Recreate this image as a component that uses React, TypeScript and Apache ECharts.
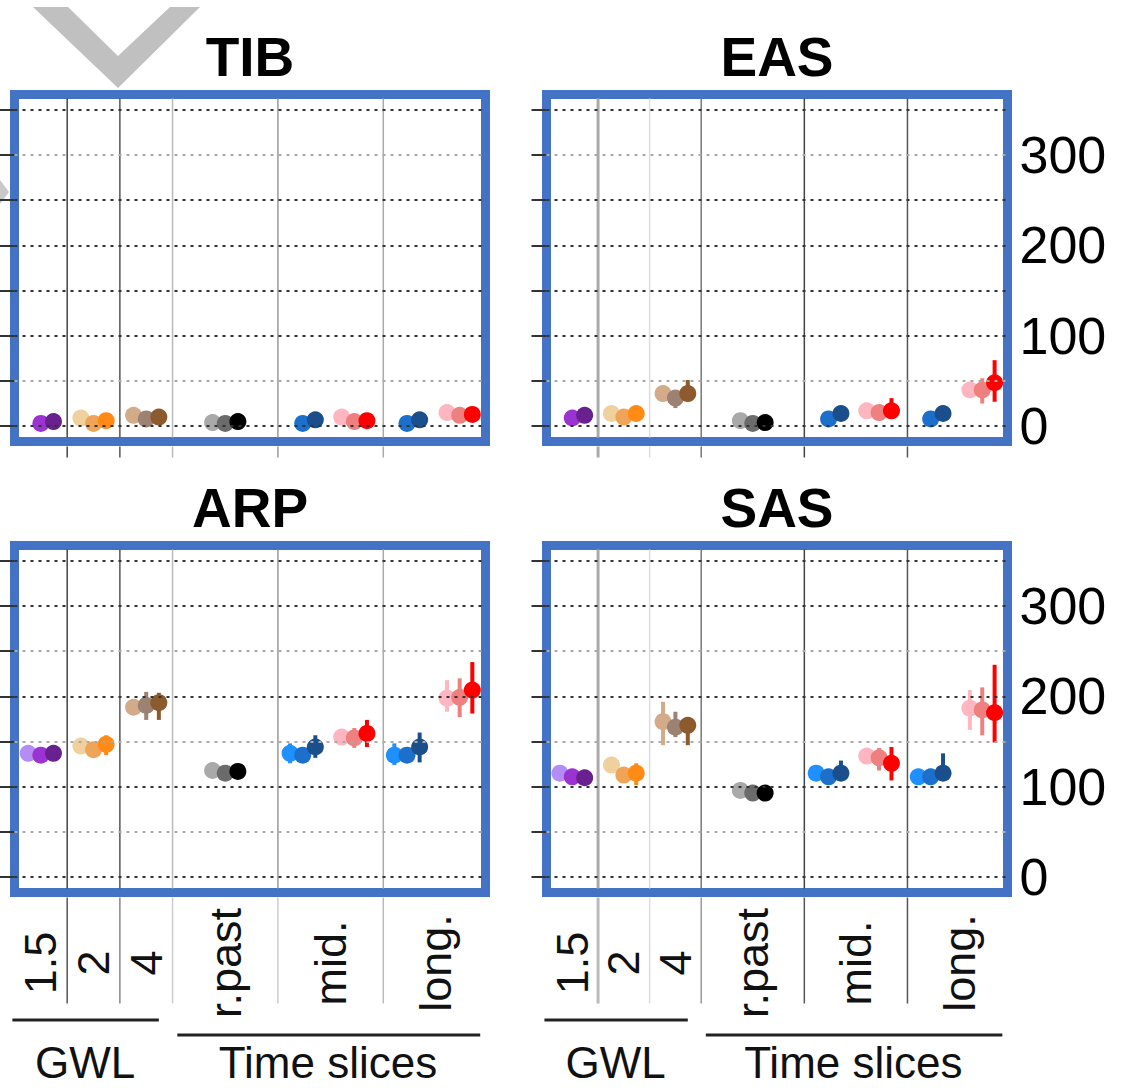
import React, { useEffect, useRef } from "react";
import * as echarts from "echarts";

const FONT = "Liberation Sans";

const panelNames = ["TIB", "EAS", "ARP", "SAS"];
const categoryLabels = ["1.5", "2", "4", "r.past", "mid.", "long."];
const categoryCenters = [0.5, 1.5, 2.5, 4, 6, 8];
const separatorPositions = [1, 2, 3, 5, 7];
const clusterCenters = [0.5, 1.5, 2.5, 4.0, 5.47, 6.45, 7.45, 8.45];
const memberOffsets = [-0.24, 0, 0.24];
const gridValues = [0, 50, 100, 150, 200, 250, 300, 350];
const rightTickLabels = [0, 100, 200, 300];
const groupLabels = ["GWL", "Time slices"];

const clusterColors = [
  ["#b58cf5", "#9b32d2", "#6a2190"],
  ["#f0d09c", "#f0a458", "#ff8a14"],
  ["#d4ab89", "#9c8272", "#8c5a2c"],
  ["#a9a9a9", "#6b6b6b", "#000000"],
  ["#1e90ff", "#1c70cc", "#1b4f8c"],
  ["#ffb6c1", "#ee8080", "#ff0000"],
  ["#1e90ff", "#1c70cc", "#1b4f8c"],
  ["#ffb6c1", "#ee8080", "#ff0000"],
];

const N = null;
// 8 clusters x 3 members: 1.5, 2, 4, r.past, mid.(blue), mid.(red), long.(blue), long.(red)
const tibMean = [N, 3, 5, 9, 3, 6, 12, 8, 10, 4, 3, 5, N, 3, 7, 10, 5, 6, N, 3, 7, 15, 12, 13];
const tibLow = [N, N, N, N, N, N, N, N, N, N, N, N, N, N, N, N, N, N, N, N, N, N, N, N];
const tibHigh = [N, N, N, N, N, N, N, N, N, N, N, N, N, N, N, N, N, N, N, N, N, N, N, N];

const easMean = [N, 9, 12, 14, 10, 14, 36, 31, 36, 6, 3, 4, N, 8, 14, 17, 15, 17, N, 8, 14, 40, 40, 48];
const easLow = [N, N, N, N, N, N, N, 20, 30, N, N, N, N, N, N, N, N, 12, N, N, N, 33, 25, 27];
const easHigh = [N, N, N, N, N, N, N, 35, 51, N, N, N, N, N, N, N, N, 31, N, N, N, 47, 53, 73];

const arpMean = [137, 135, 137, 145, 141, 147, 188, 190, 193, 118, 115, 117, 137, 135, 144, 155, 154, 159, 135, 135, 144, 198, 199, 207];
const arpLow = [N, N, N, 138, N, 135, N, 174, 174, N, N, N, 126, N, 132, N, 143, 144, 124, N, 127, 183, 177, 181];
const arpHigh = [N, N, N, 152, N, 157, N, 205, 204, N, N, N, 148, N, 157, N, 165, 174, 148, N, 160, 218, 220, 238];

const sasMean = [115, 111, 110, 124, 113, 115, 172, 166, 168, 96, 93, 93, 115, 111, 115, 134, 132, 126, 111, 111, 115, 187, 185, 182];
const sasLow = [N, N, N, 118, N, 102, 146, 155, 146, N, N, N, N, N, 107, N, 118, 107, N, N, 111, 163, 157, 149];
const sasHigh = [N, N, N, 133, N, 126, 194, 183, 177, N, N, N, N, N, 129, N, 143, 144, N, N, 137, 207, 210, 235];

const panelData = [
  { mean: tibMean, low: tibLow, high: tibHigh },
  { mean: easMean, low: easLow, high: easHigh },
  { mean: arpMean, low: arpLow, high: arpHigh },
  { mean: sasMean, low: sasLow, high: sasHigh },
];

const gridBoxes = [
  { left: 14.5, top: 94.5, width: 471, height: 347 },
  { left: 546.5, top: 94.5, width: 461, height: 347 },
  { left: 14.5, top: 545.5, width: 471, height: 347 },
  { left: 546.5, top: 545.5, width: 461, height: 347 },
];

const Y_MIN = -17;
const Y_MAX = 367;
const X_MIN = 0;
const X_MAX = 8.94;

const leftSepColors = ["#444", "#555", "#bbb", "#999", "#aaa"];
const rightSepColors = ["#aaa", "#ddd", "#777", "#444", "#555"];
const leftBelowColors = ["#555", "#888", "#ccc", "#ccc", "#bbb"];
const rightBelowColors = ["#bbb", "#ddd", "#999", "#555", "#555"];
const lightTop = [50, 300];
const lightBottom = [50, 150, 250];

export default function App() {
  const ref = useRef<HTMLDivElement>(null);

  useEffect(() => {
    document.body.style.margin = "0";
    if (!ref.current) return;
    const chart = echarts.init(ref.current, null, { renderer: "svg" });

    const grids = gridBoxes.map((b) => ({
      ...b,
      show: true,
      borderColor: "#4472c4",
      borderWidth: 9,
      backgroundColor: "rgba(0,0,0,0)",
    }));

    const xAxes = gridBoxes.map((_, i) => ({
      gridIndex: i,
      type: "value",
      min: X_MIN,
      max: X_MAX,
      show: false,
    }));

    const yAxes: any[] = [];
    gridBoxes.forEach((_, i) => {
      yAxes.push({
        gridIndex: i,
        type: "value",
        min: Y_MIN,
        max: Y_MAX,
        position: "left",
        axisLine: { show: false },
        splitLine: { show: false },
        axisLabel: { show: false },
        axisTick: {
          show: true,
          length: 15,
          customValues: gridValues,
          lineStyle: { color: "#333", width: 2 },
        },
      });
      yAxes.push({
        gridIndex: i,
        type: "value",
        min: Y_MIN,
        max: Y_MAX,
        position: "right",
        axisLine: { show: false },
        splitLine: { show: false },
        axisTick: { show: false },
        axisLabel: {
          show: i % 2 === 1,
          customValues: rightTickLabels,
          fontSize: 52,
          fontFamily: FONT,
          color: "#000",
          margin: 12,
          align: "left",
        },
      });
    });

    const series: any[] = [];
    panelData.forEach((pd, i) => {
      const light = i < 2 ? lightTop : lightBottom;
      series.push({
        type: "scatter",
        xAxisIndex: i,
        yAxisIndex: 2 * i,
        data: [],
        z: 1,
        silent: true,
        markLine: {
          silent: true,
          symbol: ["none", "none"],
          label: { show: false },
          data: gridValues.map((v) => ({
            yAxis: v,
            lineStyle: {
              color: light.includes(v) ? "#aaa" : "#333",
              type: [3, 5],
              width: 2,
            },
          })),
        },
      });

      const items: any[] = [];
      const colors: string[] = [];
      pd.mean.forEach((m, k) => {
        if (m === null) return;
        const c = Math.floor(k / 3);
        const mIdx = k % 3;
        const x = clusterCenters[c] + memberOffsets[mIdx];
        const lo = pd.low[k];
        const hi = pd.high[k];
        items.push([x, m, lo === null ? "-" : lo, hi === null ? "-" : hi]);
        colors.push(clusterColors[c][mIdx]);
      });

      series.push({
        type: "custom",
        xAxisIndex: i,
        yAxisIndex: 2 * i,
        z: 3,
        silent: true,
        encode: { x: 0, y: 1 },
        data: items,
        renderItem: (params: any, api: any) => {
          const x = api.value(0);
          const m = api.value(1);
          const lo = api.value(2);
          const hi = api.value(3);
          const color = colors[params.dataIndex];
          const p = api.coord([x, m]);
          const children: any[] = [];
          if (!isNaN(lo) && !isNaN(hi)) {
            const a = api.coord([x, lo]);
            const b = api.coord([x, hi]);
            children.push({
              type: "line",
              shape: { x1: a[0], y1: a[1], x2: b[0], y2: b[1] },
              style: { stroke: color, lineWidth: 4 },
            });
          }
          children.push({
            type: "circle",
            shape: { cx: p[0], cy: p[1], r: 8.5 },
            style: { fill: color },
          });
          return { type: "group", children };
        },
      });
    });

    chart.setOption({
      animation: false,
      backgroundColor: "#fff",
      grid: grids,
      xAxis: xAxes,
      yAxis: yAxes,
      series,
    });

    const graphics: any[] = [];

    // decorative chevron remnants
    graphics.push({
      type: "polygon",
      shape: { points: [[33, 7], [68, 7], [118, 56], [170, 7], [200, 7], [118, 88]] },
      style: { fill: "#c0c0c0" },
      z: 0,
    });
    graphics.push({
      type: "polygon",
      shape: { points: [[0, 180], [9, 192], [0, 204]] },
      style: { fill: "#c8c8c8" },
      z: 0,
    });

    gridBoxes.forEach((b, i) => {
      const isRight = i % 2 === 1;
      const isBottom = i >= 2;
      const px = (v: number) => chart.convertToPixel({ xAxisIndex: i }, v) as number;
      const bottom = b.top + b.height;

      graphics.push({
        type: "text",
        x: b.left + b.width / 2,
        y: b.top - 38,
        z: 5,
        style: {
          text: panelNames[i],
          fontSize: 55,
          fontWeight: "bold",
          fontFamily: FONT,
          fill: "#000",
          align: "center",
          verticalAlign: "middle",
        },
      });

      separatorPositions.forEach((s, k) => {
        const x = px(s);
        const inColor = isRight ? rightSepColors[k] : leftSepColors[k];
        const belowColor = isRight ? rightBelowColors[k] : leftBelowColors[k];
        const w = isRight && k === 0 ? 3 : 1.5;
        graphics.push({
          type: "line",
          shape: { x1: x, y1: b.top + 4, x2: x, y2: bottom - 4 },
          style: { stroke: inColor, lineWidth: w },
          z: 1,
        });
        graphics.push({
          type: "line",
          shape: { x1: x, y1: bottom + 5, x2: x, y2: isBottom ? bottom + 111 : bottom + 16 },
          style: { stroke: isBottom ? belowColor : inColor, lineWidth: w },
          z: 1,
        });
      });

      if (isBottom) {
        categoryLabels.forEach((lab, k) => {
          graphics.push({
            type: "text",
            x: px(categoryCenters[k]),
            y: bottom + 70.5,
            rotation: Math.PI / 2,
            z: 5,
            style: {
              text: lab,
              fontSize: 45,
              fontFamily: FONT,
              fill: "#111",
              align: "center",
              verticalAlign: "middle",
            },
          });
        });
        graphics.push({
          type: "line",
          shape: { x1: px(-0.04), y1: 1020, x2: px(2.74), y2: 1020 },
          style: { stroke: "#222", lineWidth: 3 },
        });
        graphics.push({
          type: "line",
          shape: { x1: px(3.09), y1: 1035, x2: px(8.84), y2: 1035 },
          style: { stroke: "#222", lineWidth: 3 },
        });
        graphics.push({
          type: "text",
          x: px(1.34),
          y: 1062,
          style: {
            text: groupLabels[0],
            fontSize: 44,
            fontFamily: FONT,
            fill: "#111",
            align: "center",
            verticalAlign: "middle",
          },
        });
        graphics.push({
          type: "text",
          x: px(5.95),
          y: 1062,
          style: {
            text: groupLabels[1],
            fontSize: 44,
            fontFamily: FONT,
            fill: "#111",
            align: "center",
            verticalAlign: "middle",
          },
        });
      }
    });

    chart.setOption({ graphic: graphics });

    return () => {
      chart.dispose();
    };
  }, []);

  return <div ref={ref} style={{ width: 1124, height: 1088 }} />;
}
